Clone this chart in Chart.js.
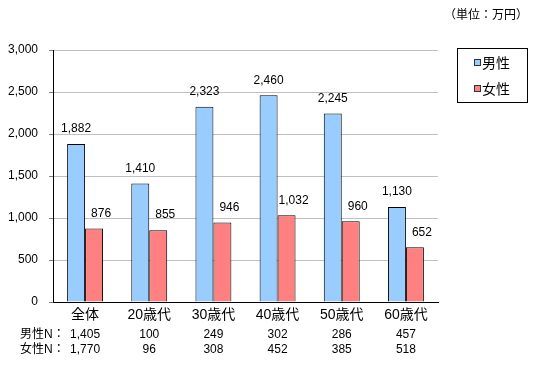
<!DOCTYPE html>
<html>
<head>
<meta charset="utf-8">
<script src="https://cdn.jsdelivr.net/npm/chart.js@4/dist/chart.umd.min.js"></script>
<style>
    body { margin: 0; background: #fff; }
    #wrap { width: 550px; height: 370px; }
</style>
</head>
<body>
<div id="wrap"><canvas id="chart" width="550" height="370"></canvas></div>
<script>
    'use strict';

    // Data
    const categories = ['全体', '20歳代', '30歳代', '40歳代', '50歳代', '60歳代'];
    const maleValues = [1882, 1410, 2323, 2460, 2245, 1130];
    const femaleValues = [876, 855, 946, 1032, 960, 652];
    const maleN = [1405, 100, 249, 302, 286, 457];
    const femaleN = [1770, 96, 308, 452, 385, 518];
    const seriesNames = ['男性', '女性'];
    const yTicks = [0, 500, 1000, 1500, 2000, 2500, 3000];

    const FONT = '"Liberation Sans", "Noto Sans CJK JP", sans-serif';
    const colors = ['#99CCFF', '#FF8080'];

    function fmt(n) {
        return String(n).replace(/\B(?=(\d{3})+(?!\d))/g, ',');
    }

    // Value labels above bars, N rows, legend and unit label
    const extrasPlugin = {
        id: 'extras',
        afterDatasetsDraw(chart) {
            const ctx = chart.ctx;
            ctx.save();
            ctx.fillStyle = '#000';
            ctx.font = '12px ' + FONT;
            ctx.textAlign = 'center';
            ctx.textBaseline = 'bottom';
            chart.data.datasets.forEach((ds, di) => {
                const meta = chart.getDatasetMeta(di);
                meta.data.forEach((bar, i) => {
                    const dx = di === 1 ? 7 : 0;
                    ctx.fillText(fmt(ds.data[i]), bar.x + dx, bar.y - 9);
                });
            });
            ctx.restore();
        },
        afterDraw(chart) {
            const ctx = chart.ctx;
            const area = chart.chartArea;
            const x = chart.scales.x;
            ctx.save();
            ctx.fillStyle = '#000';

            // N rows
            ctx.font = '12px ' + FONT;
            ctx.textBaseline = 'middle';
            ctx.textAlign = 'left';
            ctx.fillText('男性N：', 20, area.bottom + 33);
            ctx.fillText('女性N：', 20, area.bottom + 48);
            ctx.textAlign = 'center';
            categories.forEach((c, i) => {
                const px = x.getPixelForValue(i);
                ctx.fillText(fmt(maleN[i]), px, area.bottom + 33);
                ctx.fillText(fmt(femaleN[i]), px, area.bottom + 48);
            });

            // unit label
            ctx.font = '12px ' + FONT;
            ctx.textAlign = 'right';
            ctx.fillText('（単位：万円）', 528, 16);

            // legend box
            ctx.strokeStyle = '#000';
            ctx.lineWidth = 1;
            ctx.fillStyle = '#fff';
            ctx.fillRect(457.5, 48.5, 70, 54);
            ctx.strokeRect(457.5, 48.5, 70, 54);
            ctx.font = '14px ' + FONT;
            ctx.textAlign = 'left';
            seriesNames.forEach((name, i) => {
                const cy = 63 + i * 26;
                ctx.fillStyle = colors[i];
                ctx.fillRect(474.5, cy - 3.5, 6, 6);
                ctx.strokeStyle = '#333';
                ctx.strokeRect(474.5, cy - 3.5, 6, 6);
                ctx.fillStyle = '#000';
                ctx.fillText(name, 482, cy + 1);
            });
            ctx.restore();
        }
    };

    new Chart(document.getElementById('chart'), {
        type: 'bar',
        data: {
            labels: categories,
            datasets: [
                {
                    label: seriesNames[0],
                    data: maleValues,
                    backgroundColor: colors[0],
                    borderColor: '#000',
                    borderWidth: 1
                },
                {
                    label: seriesNames[1],
                    data: femaleValues,
                    backgroundColor: colors[1],
                    borderColor: '#000',
                    borderWidth: 1
                }
            ]
        },
        options: {
            responsive: false,
            animation: false,
            categoryPercentage: 0.56,
            barPercentage: 1.0,
            layout: {
                padding: { left: 0, right: 112, top: 50, bottom: 0 }
            },
            plugins: {
                legend: { display: false },
                tooltip: { enabled: false }
            },
            scales: {
                x: {
                    grid: { display: false, drawTicks: false },
                    border: { color: '#000', width: 1 },
                    ticks: {
                        color: '#000',
                        font: { family: FONT, size: 14 },
                        padding: 5,
                        maxRotation: 0
                    },
                    afterFit(scale) { scale.height = 68; }
                },
                y: {
                    min: 0,
                    max: 3000,
                    afterBuildTicks(scale) {
                        scale.ticks = yTicks.map(v => ({ value: v }));
                    },
                    grid: {
                        color: '#c0c0c0',
                        tickColor: '#808080',
                        tickLength: 4
                    },
                    border: { color: '#000', width: 1 },
                    ticks: {
                        color: '#000',
                        font: { family: FONT, size: 12 },
                        padding: 11,
                        callback: v => fmt(v)
                    },
                    afterFit(scale) { scale.width = 53; }
                }
            }
        },
        plugins: [extrasPlugin]
    });
</script>
</body>
</html>
